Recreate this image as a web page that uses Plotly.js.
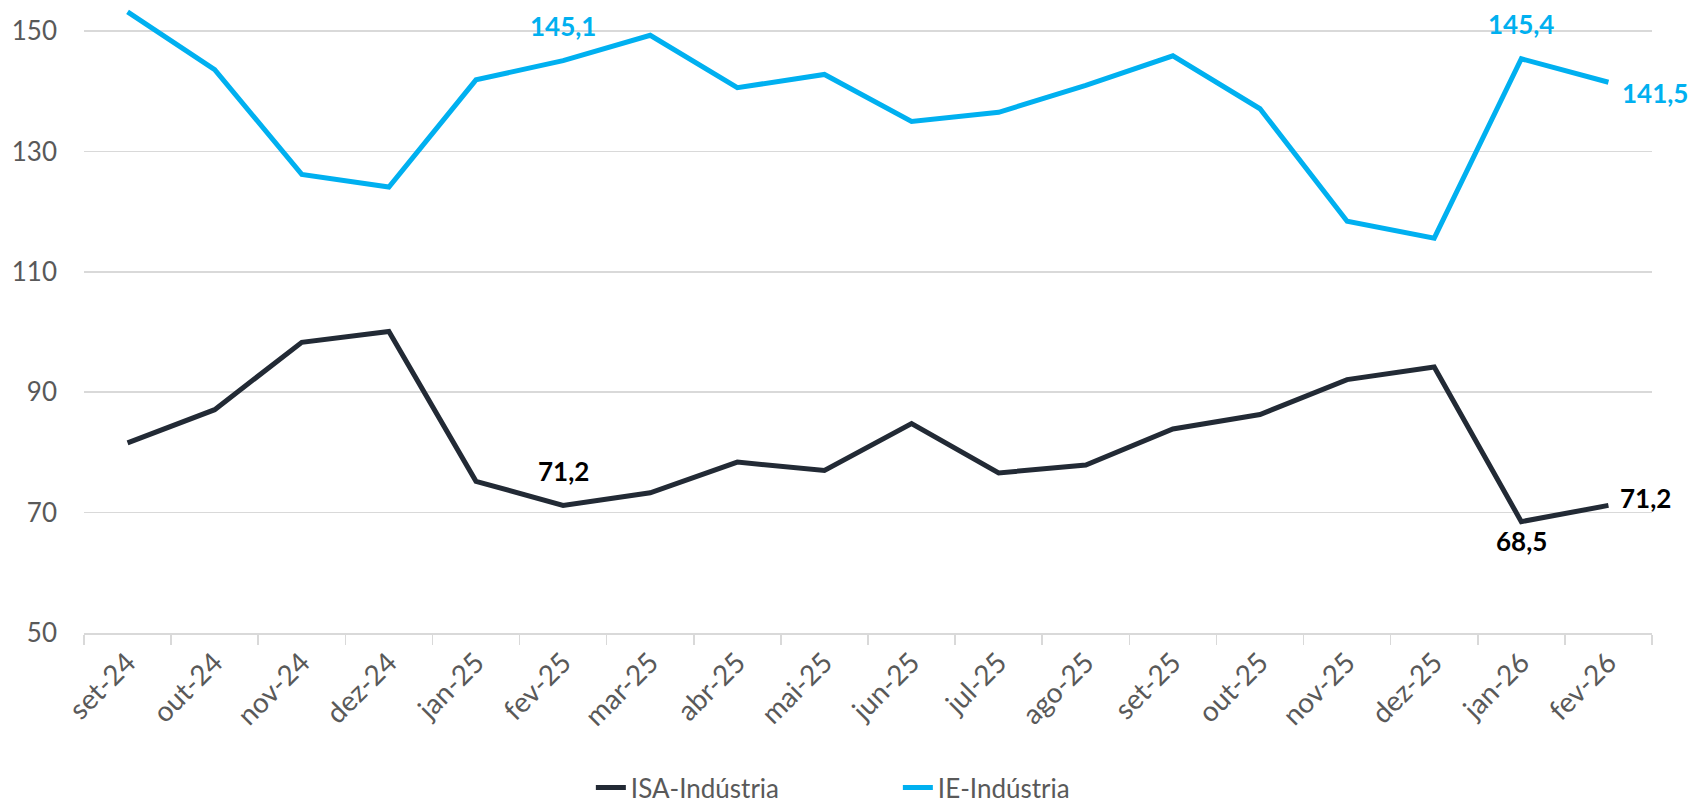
<!DOCTYPE html>
<html>
<head>
<meta charset="utf-8">
<script src="https://cdn.plot.ly/plotly-3.0.1.min.js"></script>
<style>html,body{margin:0;padding:0;background:#fff;}#chart{width:1693px;height:811px;}</style>
</head>
<body>
<div id="chart"></div>
<script>
const categories = ["set-24","out-24","nov-24","dez-24","jan-25","fev-25","mar-25","abr-25","mai-25","jun-25","jul-25","ago-25","set-25","out-25","nov-25","dez-25","jan-26","fev-26"];
const isaIndustria = [81.6,87.1,98.3,100.1,75.2,71.2,73.3,78.4,77.0,84.8,76.6,77.9,83.9,86.3,92.1,94.2,68.5,71.2];
const ieIndustria = [153.2,143.6,126.2,124.1,141.9,145.1,149.3,140.6,142.8,135.0,136.5,141.0,145.9,137.1,118.4,115.6,145.4,141.5];
const yTicks = [50,70,90,110,130,150];

const FONT = "Lato, 'Noto Sans', sans-serif";
const ISA_COLOR = "#222A35";
const IE_COLOR = "#00B0F0";
const fmt = v => v.toFixed(1).replace('.', ',');

// labelled points: [series values, index, color, xshift, yshift, xanchor]
const labelSpecs = [
  [ieIndustria, 5, IE_COLOR, 0, 35, 'center'],
  [ieIndustria, 16, IE_COLOR, 0, 35, 'center'],
  [ieIndustria, 17, IE_COLOR, 12, -11, 'left'],
  [isaIndustria, 5, '#000000', 0, 34, 'center'],
  [isaIndustria, 16, '#000000', 0, -19, 'center'],
  [isaIndustria, 17, '#000000', 10, 7, 'left']
];
const annotations = labelSpecs.map(([arr, i, c, xs, ys, xa]) => ({
  x: categories[i], y: arr[i], xref: 'x', yref: 'y',
  text: '<b>' + fmt(arr[i]) + '</b>', showarrow: false,
  xshift: xs, yshift: ys, xanchor: xa, yanchor: 'middle',
  font: {family: FONT, size: 26, color: c}
}));

const traces = [
  {x: categories, y: isaIndustria, type: 'scatter', mode: 'lines', name: 'ISA-Indústria',
   line: {color: ISA_COLOR, width: 5}},
  {x: categories, y: ieIndustria, type: 'scatter', mode: 'lines', name: 'IE-Indústria',
   line: {color: IE_COLOR, width: 5}}
];

const layout = {
  width: 1693, height: 811,
  margin: {l: 84, r: 41, t: 1, b: 178},
  paper_bgcolor: '#ffffff', plot_bgcolor: '#ffffff',
  font: {family: FONT, color: '#595959', size: 26},
  showlegend: true,
  legend: {orientation: 'h', xref: 'container', x: 0.349, xanchor: 'left', yref: 'container', y: 0, yanchor: 'bottom',
    font: {family: FONT, size: 26, color: '#595959'}, entrywidth: 262, entrywidthmode: 'pixels', tracegroupgap: 0},
  xaxis: {
    type: 'category', range: [-0.5, 17.5], tickangle: -45,
    tickson: 'boundaries', ticks: 'outside', ticklen: 10, tickcolor: '#d9d9d9', tickwidth: 1.5,
    showline: true, linecolor: '#d9d9d9', linewidth: 2,
    showgrid: false, zeroline: false,
    tickfont: {family: FONT, size: 28, color: '#595959'}
  },
  yaxis: {
    range: [50, 155], tickvals: yTicks, ticktext: yTicks.map(String),
    showgrid: true, gridcolor: '#d9d9d9', gridwidth: 1.5,
    zeroline: false, showline: false, ticks: '', ticklabelstandoff: 26,
    tickfont: {family: FONT, size: 26, color: '#595959'}
  },
  annotations: annotations
};

Plotly.newPlot('chart', traces, layout, {displayModeBar: false, staticPlot: true});
</script>
</body>
</html>
